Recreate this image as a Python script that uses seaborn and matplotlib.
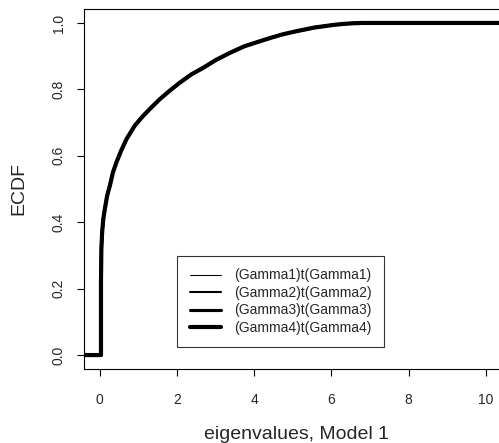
import matplotlib
matplotlib.use("Agg")
import matplotlib.pyplot as plt
import seaborn as sns

# ECDF curve (same for the four overlapping series)
ev_x = [-0.5, 0.03, 0.03, 0.04, 0.06, 0.09, 0.13, 0.19, 0.26, 0.34, 0.43,
        0.55, 0.69, 0.9, 1.12, 1.33, 1.55, 1.8, 2.07, 2.37, 2.68, 3.0,
        3.37, 3.75, 4.15, 4.45, 4.75, 5.05, 5.3, 5.55, 5.8, 6.05, 6.3,
        6.55, 6.8, 11.0]
ev_ecdf = [0.0, 0.0, 0.22, 0.32, 0.37, 0.41, 0.44, 0.48, 0.51, 0.55, 0.58,
           0.615, 0.65, 0.69, 0.72, 0.745, 0.77, 0.795, 0.82, 0.845, 0.865,
           0.888, 0.91, 0.93, 0.945, 0.956, 0.966, 0.974, 0.98, 0.986,
           0.99, 0.994, 0.997, 0.999, 1.0, 1.0]

series_names = ["(Gamma1)t(Gamma1)", "(Gamma2)t(Gamma2)",
                "(Gamma3)t(Gamma3)", "(Gamma4)t(Gamma4)"]
series_lwd = [0.75, 1.5, 2.25, 3.0]

x_ticks = [0, 2, 4, 6, 8, 10]
y_ticks = [0.0, 0.2, 0.4, 0.6, 0.8, 1.0]

sns.set_style("white")
plt.rcParams["font.family"] = ["Liberation Sans", "DejaVu Sans"]

fig = plt.figure(figsize=(4.99, 4.43), dpi=100)
ax = fig.add_axes([84 / 499, 74 / 443, 425 / 499, 360 / 443])

for name, lw in zip(series_names, series_lwd):
    sns.lineplot(x=ev_x, y=ev_ecdf, estimator=None, sort=False,
                 color="black", linewidth=lw, label=name, ax=ax)

ax.set_xlim(-0.41, 10.6)
ax.set_ylim(-0.042, 1.042)
ax.set_xticks(x_ticks)
ax.set_xticklabels([str(t) for t in x_ticks])
ax.set_yticks(y_ticks)
ax.set_yticklabels(["%.1f" % t for t in y_ticks], rotation=90, va="center")
ax.tick_params(axis="both", direction="out", length=5, width=0.8,
               color="black", labelsize=10, bottom=True, left=True)
ax.tick_params(axis="x", pad=12)
ax.tick_params(axis="y", pad=8)

for sp in ax.spines.values():
    sp.set_color("black")
    sp.set_linewidth(0.8)

ax.set_xlabel("eigenvalues, Model 1", fontsize=14, labelpad=14)
ax.set_ylabel("ECDF", fontsize=14, labelpad=18)

leg = ax.legend(loc="upper left", bbox_to_anchor=(177 / 499, 1 - 256 / 443),
                bbox_transform=fig.transFigure, borderaxespad=0,
                fontsize=10, frameon=True, fancybox=False,
                handlelength=2.3, handletextpad=0.9, labelspacing=0.25,
                borderpad=0.9)
leg.get_frame().set_edgecolor("black")
leg.get_frame().set_linewidth(0.8)

fig.savefig("out.png", dpi=100)
